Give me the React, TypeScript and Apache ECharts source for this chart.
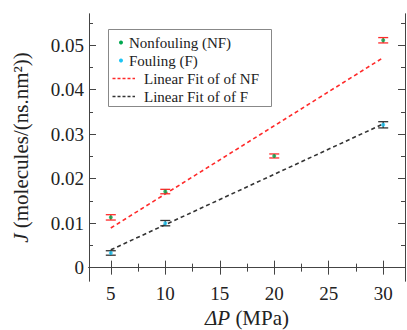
import React, { useEffect, useRef } from "react";
import * as echarts from "echarts";

// Transmembrane pressure (MPa) at which each system was simulated
const nfPressure = [5, 10, 20, 30];
const nfFlux = [0.0113, 0.0171, 0.0251, 0.0511];
const nfError = [0.0006, 0.0005, 0.00045, 0.0006];

const fPressure = [5, 10, 30];
const fFlux = [0.0033, 0.01, 0.0321];
const fError = [0.0005, 0.0006, 0.0007];

// Linear fits, given by their end points
const fitPressure = [5, 30];
const nfFit = [0.0089, 0.0472];
const fFit = [0.004, 0.0323];

const xMajor = [5, 10, 15, 20, 25, 30];
const xMinor = [7.5, 12.5, 17.5, 22.5, 27.5];
const yMajor = [0, 0.01, 0.02, 0.03, 0.04, 0.05];
const yMinor = [0.005, 0.015, 0.025, 0.035, 0.045, 0.055];

const FONT = "Liberation Serif";
const NF_COLOR = "#00a84f";
const F_COLOR = "#1cc4f4";
const NF_FIT_COLOR = "#ff2a2a";
const F_FIT_COLOR = "#333333";
const AXIS_COLOR = "#444";

const X_MIN = 3;
const X_MAX = 32;
const Y_MIN = -0.003;
const Y_MAX = 0.057;

function xAxisDef(position: "bottom" | "top", ticks: number[], len: number, labels: boolean, name?: string) {
  return {
    type: "value",
    position,
    min: X_MIN,
    max: X_MAX,
    name: name ?? "",
    nameLocation: "middle",
    nameGap: 25,
    nameTextStyle: {
      fontFamily: FONT,
      fontSize: 21,
      color: "#222",
      rich: { i: { fontFamily: FONT, fontSize: 21, fontStyle: "italic", color: "#222" } },
    },
    axisLine: { show: true, lineStyle: { color: AXIS_COLOR, width: 1 } },
    axisTick: { show: true, inside: true, length: len, customValues: ticks, lineStyle: { color: AXIS_COLOR } },
    axisLabel: labels
      ? { show: true, customValues: ticks, margin: 3, fontFamily: FONT, fontSize: 19, color: "#222" }
      : { show: false },
    splitLine: { show: false },
  };
}

function yAxisDef(position: "left" | "right", ticks: number[], len: number, labels: boolean, name?: string) {
  return {
    type: "value",
    position,
    min: Y_MIN,
    max: Y_MAX,
    name: name ?? "",
    nameLocation: "middle",
    nameRotate: 90,
    nameGap: 58,
    nameTextStyle: {
      fontFamily: FONT,
      fontSize: 21,
      color: "#222",
      rich: { i: { fontFamily: FONT, fontSize: 21, fontStyle: "italic", color: "#222" } },
    },
    axisLine: { show: true, lineStyle: { color: AXIS_COLOR, width: 1 } },
    axisTick: { show: true, inside: true, length: len, customValues: ticks, lineStyle: { color: AXIS_COLOR } },
    axisLabel: labels
      ? {
          show: true,
          customValues: ticks,
          margin: 5,
          fontFamily: FONT,
          fontSize: 19,
          color: "#222",
          formatter: (v: number) => (Math.abs(v) < 1e-9 ? "0" : v.toFixed(2)),
        }
      : { show: false },
    splitLine: { show: false },
  };
}

function errorBars(xs: number[], ys: number[], errs: number[], color: string) {
  return {
    type: "custom",
    xAxisIndex: 0,
    yAxisIndex: 0,
    z: 5,
    data: xs.map((x, i) => [x, ys[i] - errs[i], ys[i] + errs[i]]),
    renderItem: (_params: any, api: any) => {
      const x = api.value(0);
      const lo = api.coord([x, api.value(1)]);
      const hi = api.coord([x, api.value(2)]);
      const half = 5;
      const style = { stroke: color, lineWidth: 1.3 };
      return {
        type: "group",
        children: [
          { type: "line", shape: { x1: lo[0], y1: lo[1], x2: hi[0], y2: hi[1] }, style },
          { type: "line", shape: { x1: lo[0] - half, y1: lo[1], x2: lo[0] + half, y2: lo[1] }, style },
          { type: "line", shape: { x1: hi[0] - half, y1: hi[1], x2: hi[0] + half, y2: hi[1] }, style },
        ],
      };
    },
  };
}

function legendGraphic() {
  const left = 108.5;
  const top = 29.5;
  const textStyle = { fontFamily: FONT, fontSize: 15, fill: "#222", verticalAlign: "middle" };
  return [
    {
      type: "rect",
      shape: { x: left, y: top, width: 163, height: 77 },
      style: { fill: "#fff", stroke: "#888", lineWidth: 1 },
      z: 10,
    },
    { type: "circle", shape: { cx: 121, cy: 42.5, r: 2 }, style: { fill: NF_COLOR }, z: 11 },
    { type: "text", x: 129, y: 42.5, style: { ...textStyle, text: "Nonfouling (NF)" }, z: 11 },
    { type: "circle", shape: { cx: 121, cy: 60.5, r: 2 }, style: { fill: F_COLOR }, z: 11 },
    { type: "text", x: 129, y: 60.5, style: { ...textStyle, text: "Fouling (F)" }, z: 11 },
    {
      type: "line",
      shape: { x1: 112.5, y1: 78.5, x2: 135, y2: 78.5 },
      style: { stroke: NF_FIT_COLOR, lineWidth: 1.5, lineDash: [3, 2] },
      z: 11,
    },
    { type: "text", x: 144, y: 78.5, style: { ...textStyle, text: "Linear Fit of of NF" }, z: 11 },
    {
      type: "line",
      shape: { x1: 112.5, y1: 96.5, x2: 135, y2: 96.5 },
      style: { stroke: F_FIT_COLOR, lineWidth: 1.5, lineDash: [3, 2] },
      z: 11,
    },
    { type: "text", x: 144, y: 96.5, style: { ...textStyle, text: "Linear Fit of of F" }, z: 11 },
  ];
}

export default function App() {
  const ref = useRef<HTMLDivElement>(null);

  useEffect(() => {
    if (!ref.current) return;
    const chart = echarts.init(ref.current, undefined, { renderer: "svg" });
    chart.setOption({
      animation: false,
      backgroundColor: "#fff",
      grid: { left: 89, top: 14, width: 316, height: 267, containLabel: false, outerBoundsMode: "none" },
      xAxis: [
        xAxisDef("bottom", xMajor, 7, true, "{i|ΔP} (MPa)"),
        xAxisDef("bottom", xMinor, 4, false),
        xAxisDef("top", xMajor, 7, false),
        xAxisDef("top", xMinor, 4, false),
      ],
      yAxis: [
        yAxisDef("left", yMajor, 7, true, "{i|J} (molecules/(ns.nm²))"),
        yAxisDef("left", yMinor, 4, false),
        yAxisDef("right", yMajor, 7, false),
        yAxisDef("right", yMinor, 4, false),
      ],
      series: [
        {
          type: "line",
          name: "Linear Fit of of NF",
          data: fitPressure.map((x, i) => [x, nfFit[i]]),
          symbol: "none",
          lineStyle: { color: NF_FIT_COLOR, width: 1.6, type: [4, 3] },
          z: 2,
        },
        {
          type: "line",
          name: "Linear Fit of of F",
          data: fitPressure.map((x, i) => [x, fFit[i]]),
          symbol: "none",
          lineStyle: { color: F_FIT_COLOR, width: 1.6, type: [4, 3] },
          z: 2,
        },
        errorBars(nfPressure, nfFlux, nfError, NF_FIT_COLOR),
        errorBars(fPressure, fFlux, fError, F_FIT_COLOR),
        {
          type: "scatter",
          name: "Nonfouling (NF)",
          data: nfPressure.map((x, i) => [x, nfFlux[i]]),
          symbol: "circle",
          symbolSize: 4,
          itemStyle: { color: NF_COLOR },
          z: 6,
        },
        {
          type: "scatter",
          name: "Fouling (F)",
          data: fPressure.map((x, i) => [x, fFlux[i]]),
          symbol: "circle",
          symbolSize: 4,
          itemStyle: { color: F_COLOR },
          z: 6,
        },
      ],
      graphic: legendGraphic(),
    });
    return () => chart.dispose();
  }, []);

  return <div ref={ref} style={{ width: 407, height: 330, position: "absolute", left: 0, top: 0 }} />;
}
